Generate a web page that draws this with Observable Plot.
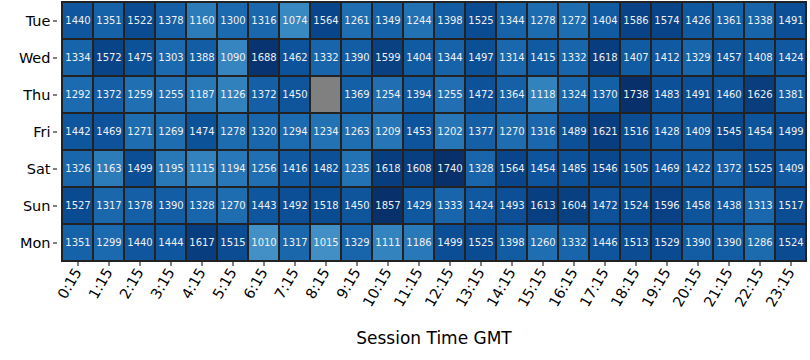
<!DOCTYPE html>
<html><head><meta charset="utf-8">
<script src="https://cdn.jsdelivr.net/npm/d3@7"></script>
<script src="https://cdn.jsdelivr.net/npm/@observablehq/plot@0.6"></script>
<style>body{margin:0;background:#fff;} svg{display:block;font-family:"DejaVu Sans",sans-serif;}</style>
</head><body><div id="chart"></div>
<script>
const days = ["Tue","Wed","Thu","Fri","Sat","Sun","Mon"];
const times = ["0:15","1:15","2:15","3:15","4:15","5:15","6:15","7:15","8:15","9:15","10:15","11:15","12:15","13:15","14:15","15:15","16:15","17:15","18:15","19:15","20:15","21:15","22:15","23:15"];
const tue = [1440,1351,1522,1378,1160,1300,1316,1074,1564,1261,1349,1244,1398,1525,1344,1278,1272,1404,1586,1574,1426,1361,1338,1491];
const wed = [1334,1572,1475,1303,1388,1090,1688,1462,1332,1390,1599,1404,1344,1497,1314,1415,1332,1618,1407,1412,1329,1457,1408,1424];
const thu = [1292,1372,1259,1255,1187,1126,1372,1450,null,1369,1254,1394,1255,1472,1364,1118,1324,1370,1738,1483,1491,1460,1626,1381];
const fri = [1442,1469,1271,1269,1474,1278,1320,1294,1234,1263,1209,1453,1202,1377,1270,1316,1489,1621,1516,1428,1409,1545,1454,1499];
const sat = [1326,1163,1499,1195,1115,1194,1256,1416,1482,1235,1618,1608,1740,1328,1564,1454,1485,1546,1505,1469,1422,1372,1525,1409];
const sun = [1527,1317,1378,1390,1328,1270,1443,1492,1518,1450,1857,1429,1333,1424,1493,1613,1604,1472,1524,1596,1458,1438,1313,1517];
const mon = [1351,1299,1440,1444,1617,1515,1010,1317,1015,1329,1111,1186,1499,1525,1398,1260,1332,1446,1513,1529,1390,1390,1286,1524];
const rows = [tue, wed, thu, fri, sat, sun, mon];

const data = [];
rows.forEach((r, i) => r.forEach((v, j) => data.push({day: days[i], time: times[j], value: v})));
const present = data.filter(d => d.value != null);
const missing = data.filter(d => d.value == null);

const chart = Plot.plot({
  width: 810, height: 360,
  marginLeft: 57, marginRight: 0, marginTop: 0, marginBottom: 98,
  style: {fontFamily: "DejaVu Sans, sans-serif", fontSize: "14px", color: "#000"},
  x: {domain: times, padding: 0, label: null},
  y: {domain: days, padding: 0, label: null},
  color: {type: "linear", scheme: "blues", domain: [-200, 1720], clamp: true},
  marks: [
    Plot.cell(missing, {x: "time", y: "day", fill: "#808080", stroke: "#222", strokeWidth: 2}),
    Plot.cell(present, {x: "time", y: "day", fill: "value", stroke: "#222", strokeWidth: 2}),
    Plot.text(present, {x: "time", y: "day", text: d => String(d.value), fill: "#f0f0f0", fontSize: 10}),
    Plot.axisX({tickRotate: -60, tickSize: 4, tickPadding: 3, fontSize: 14.5, label: null}),
    Plot.axisY({tickSize: 4, tickPadding: 3, fontSize: 14.5, label: null}),
    Plot.text(["Session Time GMT"], {frameAnchor: "bottom", lineAnchor: "middle", dy: 76, fontSize: 17, fill: "#000"})
  ]
});
document.getElementById("chart").appendChild(chart);
</script></body></html>
